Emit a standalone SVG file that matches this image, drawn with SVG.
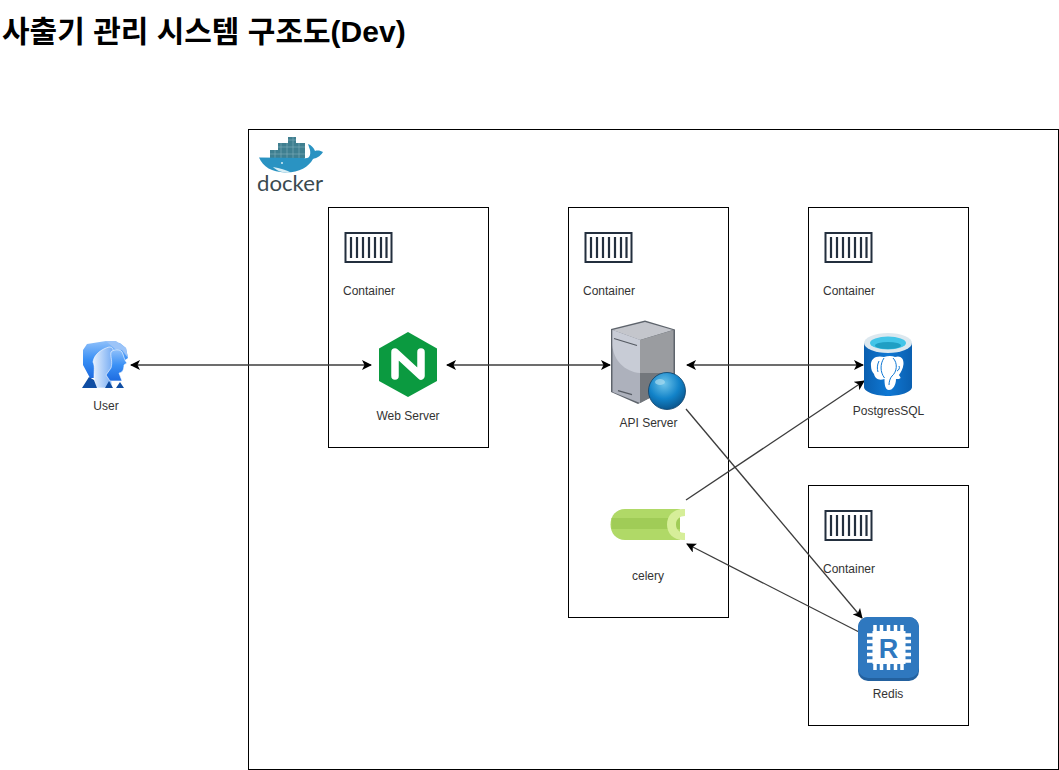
<svg xmlns="http://www.w3.org/2000/svg" xmlns:xlink="http://www.w3.org/1999/xlink" width="1059" height="770" viewBox="0 0 1059 770">
<style>
text{font-family:"Liberation Sans",Arial,sans-serif;font-size:12px;fill:#333}
.lbl{text-anchor:middle}
.box{fill:#fff;stroke:#000;stroke-width:1}
.conn{fill:none;stroke:#3c3c3c;stroke-width:1.300}
</style>
<defs>
<marker id="ah" viewBox="0 0 10 10" refX="9" refY="5" markerWidth="10" markerHeight="10" markerUnits="userSpaceOnUse" orient="auto-start-reverse"><path d="M0 0L10 5L0 10L2.500 5Z" fill="#000"/></marker>
<g id="cicon">
<rect x="1" y="1" width="46" height="29" fill="#fff" stroke="#232f3e" stroke-width="2"/>
<path d="M6.500 5V26M12.500 5V26M18.500 5V26M24.500 5V26M30.500 5V26M36.500 5V26M42 5V26" stroke="#232f3e" stroke-width="2.200" fill="none"/>
</g>
<linearGradient id="ug" x1="0" y1="0" x2="0" y2="1"><stop offset="0" stop-color="#8fc0fa"/><stop offset=".5" stop-color="#3a90f5"/><stop offset="1" stop-color="#1d6be0"/></linearGradient>
<linearGradient id="ug2" x1="0" y1="0" x2="1" y2="0"><stop offset="0" stop-color="#e6f0fd"/><stop offset="1" stop-color="#6fa8f3"/></linearGradient>
<linearGradient id="pg" x1="0" y1="0" x2="1" y2="0"><stop offset="0" stop-color="#0a5fb0"/><stop offset=".5" stop-color="#0f78d4"/><stop offset="1" stop-color="#0a5fb0"/></linearGradient>
<radialGradient id="gl" cx=".42" cy=".3" r=".75"><stop offset="0" stop-color="#6ec4ea"/><stop offset=".55" stop-color="#1283c9"/><stop offset="1" stop-color="#0a4f84"/></radialGradient>
</defs>
<rect width="1059" height="770" fill="#fff"/>
<text x="2" y="42" style="font-family:'Liberation Sans','Noto Sans CJK KR',sans-serif;font-size:30px;font-weight:700;fill:#000">사출기 관리 시스템 구조도(Dev)</text>
<g id="docker-host">
<rect class="box" x="248.500" y="129.500" width="810" height="640"/>
<g id="docker-logo">
<path d="M270 150H278V143H288V137H296V143H305V158H270Z" fill="#3f7f90"/>
<path d="M275 150V158M281 143V158M287 143V158M293 137V158M299 143V158M270 154H305M278 147H305M288 140H296" stroke="#7fb0bc" stroke-width=".6" fill="none"/>
<path d="M259 157.500L304 158C309 159 311 156 310 150L308 144C311 145 314 148 315 151C318 150 321 151 323 152C320 157 316 158 313 159C309 167 298 173 285 172.500C272 172 263 167 259 157.500Z" fill="#2a93c2"/>
<path d="M273 167C280 168 286 170 291 172.500C283 173.500 277 171 273 167Z" fill="#d8eef5"/>
<circle cx="282" cy="163" r="1" fill="#d8eef5"/>
<text x="257" y="190.500" style="font-family:'Lato','Liberation Sans',sans-serif;font-size:21px;fill:#3a4a50" textLength="66" lengthAdjust="spacingAndGlyphs">docker</text>
</g>
</g>
<g id="web-container">
<rect class="box" x="328.500" y="207.500" width="160" height="240"/>
<use xlink:href="#cicon" href="#cicon" x="344.500" y="232"/>
<text x="343" y="295">Container</text>
</g>
<g id="api-container">
<rect class="box" x="568.500" y="207.500" width="160" height="410"/>
<use xlink:href="#cicon" href="#cicon" x="584.500" y="232"/>
<text x="583" y="295">Container</text>
</g>
<g id="db-container">
<rect class="box" x="808.500" y="207.500" width="160" height="240"/>
<use xlink:href="#cicon" href="#cicon" x="824.500" y="232"/>
<text x="823" y="295">Container</text>
</g>
<g id="redis-container">
<rect class="box" x="808.500" y="485.500" width="160" height="240"/>
<use xlink:href="#cicon" href="#cicon" x="824.500" y="510"/>
<text x="823" y="573">Container</text>
</g>
<g id="connectors">
<path class="conn" d="M131 365H371" marker-start="url(#ah)" marker-end="url(#ah)"/>
<path class="conn" d="M447 365H610" marker-start="url(#ah)" marker-end="url(#ah)"/>
<path class="conn" d="M687 365H863" marker-start="url(#ah)" marker-end="url(#ah)"/>
<path class="conn" d="M686 500L864 381" marker-end="url(#ah)"/>
<path class="conn" d="M686 409L862 618" marker-end="url(#ah)"/>
<path class="conn" d="M859 632L687 544" marker-end="url(#ah)"/>
</g>
<g id="user">
<path d="M87 344L106 341L120 343L126 348L128 358L122 362L118 378H90L83 365V350Z" fill="url(#ug)"/>
<path d="M106 341L116 341L126 348L128 358L122 350L115 349Z" fill="#9cc4f8"/>
<path d="M94 378C94 370 95 366 93 362C94 354 102 349 109 347C114 347 114 352 112 355C115 358 113 362 113 365L111 372L112 388H96Z" fill="url(#ug2)" stroke="#fff" stroke-width=".6"/>
<path d="M111 352C114 349 120 349 122 352C124 356 124 360 127 363L124 365C124 370 122 373 119 373L122 381H110L106 375L111 368C113 361 110 357 111 352Z" fill="url(#ug)" stroke="#fff" stroke-width=".6"/>
<path d="M82 388L89 377L94 380L97 388Z M105 388L109 381L113 388Z M116 388L120 382L124 388Z" fill="#0f4da3"/>
<text class="lbl" x="106" y="410">User</text>
</g>
<g id="web-server">
<path d="M408 332L437 348.500V381L408 397L379 381V348.500Z" fill="#0b9a40"/>
<path d="M395 376V352L421 376V352" fill="none" stroke="#fff" stroke-width="7.500" stroke-linecap="round" stroke-linejoin="round"/>
<text class="lbl" x="408" y="420">Web Server</text>
</g>
<g id="api-server">
<path d="M611 329L645 320.500L675 329.500V385L638 404L611 392Z" fill="#5e646c"/>
<path d="M612.500 330L645 322L673 330L640 340Z" fill="#c4c6cc"/>
<path d="M612.500 330L640 340V403L612.500 392Z" fill="#adb1bc"/>
<path d="M612.500 330L640 340V373C625 372 613 360 612.500 345Z" fill="#c8ccd6"/>
<path d="M640 340L673.500 330V385L640 403Z" fill="#9a9ca0"/>
<path d="M640 373L673.500 373V385L640 403Z" fill="#73777c"/>
<path d="M614 338.500L637 345.500M618 390.500L632 394.500" stroke="#555a62" stroke-width="1.300" fill="none"/>
<circle cx="667" cy="391" r="18.500" fill="url(#gl)" stroke="#0a3f68" stroke-width=".8"/>
<ellipse cx="660" cy="382" rx="5" ry="3" fill="#a9dcf0" opacity=".7"/>
<text class="lbl" x="648.500" y="427">API Server</text>
</g>
<g id="celery">
<path d="M625 509H680V540H625C616 540 610.500 533 610.500 524.500C610.500 516 616 509 625 509Z" fill="#b0d967"/>
<path d="M611.500 518H680V529H611.500Z" fill="#a0cc57"/>
<path d="M683 509C673 509 667 516 667 524.500C667 533 673 540 683 540H685V533C680 533 676 530 676 524.500C676 519 680 516 685 516V509Z" fill="#d6ee99"/>
<text class="lbl" x="648" y="580">celery</text>
</g>
<g id="postgres">
<path d="M864 343V387C864 392 876 396 888 396C900 396 912 392 912 387V343Z" fill="url(#pg)"/>
<ellipse cx="888" cy="343" rx="24" ry="10" fill="#dce8ef"/>
<ellipse cx="888" cy="343" rx="18" ry="6.500" fill="#43c5e8"/>
<ellipse cx="888" cy="345.500" rx="13" ry="3.500" fill="#1f9fc4"/>
<path d="M871 366C870 358 877 355 884 357C888 355.500 892 355.500 895 357C900 355 904 358 903.500 364C903 369 901 372 899 375C900 377 902 378 899 379L896 379C896 385 893 390 889 390C885 390 884.500 384 884.500 379C878 381 875 378 874 374C872 372 871 369 871 366Z" fill="#fff"/>
<path d="M884 358C880 364 880 372 884.500 378M893 358C898 363 897 372 892 376C890 378 889 382 889 385M879 361C877 365 877 369 878 372M899 366C900 368 899 370 897 371" fill="none" stroke="#0f78d4" stroke-width="1"/>
<text class="lbl" x="888.500" y="415">PostgresSQL</text>
</g>
<g id="redis">
<rect x="858" y="617" width="61" height="64" rx="10" fill="#23619f"/>
<rect x="858" y="617" width="61" height="61" rx="10" fill="#2f78bf"/>
<path d="M867 635h44M867 641.500h44M867 648h44M867 654.500h44M867 661h44M875 625v45M881.500 625v45M888.500 625v45M895.500 625v45M902 625v45" stroke="#fff" stroke-width="3.500" fill="none"/>
<rect x="872.500" y="631" width="33" height="33" fill="#fff"/>
<text x="888.500" y="657.500" text-anchor="middle" style="font-family:'Liberation Sans',sans-serif;font-size:27px;font-weight:700;fill:#2f78bf">R</text>
<text class="lbl" x="888" y="698">Redis</text>
</g>
</svg>
